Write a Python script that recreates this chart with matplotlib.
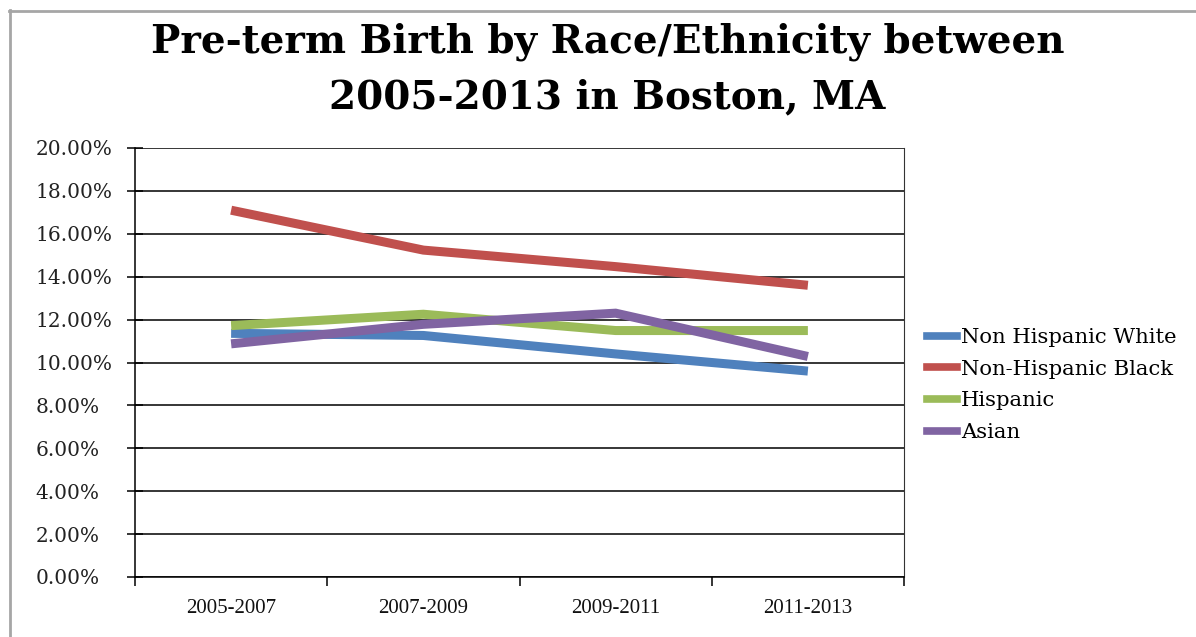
import numpy as np
import matplotlib
matplotlib.use("Agg")
import matplotlib.pyplot as plt
from matplotlib.lines import Line2D
from matplotlib.ticker import FuncFormatter, FixedLocator

# data (percent)
periods = ["2005-2007", "2007-2009", "2009-2011", "2011-2013"]
nh_white = [11.36, 11.26, 10.40, 9.60]
nh_black = [17.10, 15.24, 14.47, 13.60]
hispanic = [11.72, 12.25, 11.49, 11.49]
asian = [10.87, 11.78, 12.30, 10.28]

series_names = ["Non Hispanic White", "Non-Hispanic Black", "Hispanic", "Asian"]
series_colors = ["#4F81BD", "#C0504D", "#9BBB59", "#8064A2"]
y_ticks = [0, 2, 4, 6, 8, 10, 12, 14, 16, 18, 20]

wide_serif = ["DejaVu Serif"]
narrow_serif = ["Liberation Serif", "DejaVu Serif"]


def main():
    fig = plt.figure(figsize=(11.96, 6.37), dpi=100)
    ax = fig.add_axes([135 / 1196, 60 / 637, 769 / 1196, 429 / 637])

    x = np.arange(len(periods))
    all_series = [nh_white, nh_black, hispanic, asian]
    for vals, name, col in zip(all_series, series_names, series_colors):
        ax.plot(x, vals, color=col, lw=6.5, label=name, solid_capstyle="butt",
                solid_joinstyle="miter")

    ax.set_xlim(-0.5, len(periods) - 0.5)
    ax.set_ylim(0, 20)
    ax.set_yticks(y_ticks)
    ax.yaxis.set_major_formatter(FuncFormatter(lambda v, p: "%.2f%%" % v))
    ax.grid(axis="y", color="black", lw=1.1)
    ax.set_axisbelow(True)

    ax.set_xticks(x)
    ax.set_xticklabels(periods)
    ax.xaxis.set_minor_locator(FixedLocator(np.arange(-0.5, len(periods), 1.0)))
    ax.tick_params(axis="x", which="major", length=0, pad=16)
    ax.tick_params(axis="x", which="minor", length=6.5, width=1.1, direction="out")
    # labels are left aligned in the reference, starting near x=36px
    ax.tick_params(axis="y", length=11, width=1.1, direction="inout", pad=66)

    for lab in ax.get_yticklabels():
        lab.set_family(wide_serif)
        lab.set_fontsize(14.5)
        lab.set_color("#222222")
        lab.set_ha("left")
    for lab in ax.get_xticklabels():
        lab.set_family(narrow_serif)
        lab.set_fontsize(15)
        lab.set_color("#111111")

    for s in ["left", "bottom"]:
        ax.spines[s].set_linewidth(1.1)
    ax.spines["top"].set_visible(False)
    ax.spines["right"].set_color("#333333")
    ax.spines["right"].set_linewidth(0.8)

    handles = [Line2D([0], [0], color=c, lw=5.5) for c in series_colors]
    fig.legend(handles, series_names, loc="upper left",
               bbox_to_anchor=(927 / 1196, 1 - 328 / 637), frameon=False,
               prop={"family": wide_serif, "size": 15.2}, handlelength=1.4,
               handletextpad=0.2, labelspacing=0.6, borderaxespad=0,
               borderpad=0)

    fig.text(0.508, 1 - 42 / 637, "Pre-term Birth by Race/Ethnicity between",
             ha="center", va="center", family=wide_serif, weight="bold", fontsize=28)
    fig.text(0.508, 1 - 97 / 637, "2005-2013 in Boston, MA",
             ha="center", va="center", family=wide_serif, weight="bold", fontsize=28)

    # light frame at the top and left edges
    fig.add_artist(Line2D([9 / 1196, 1], [1 - 10.5 / 637] * 2, color="#A6A6A6", lw=2))
    fig.add_artist(Line2D([9.5 / 1196] * 2, [0, 1 - 10 / 637], color="#A6A6A6", lw=2))

    fig.savefig("out.png", dpi=100, facecolor="white")


if __name__ == '__main__':
    main()
